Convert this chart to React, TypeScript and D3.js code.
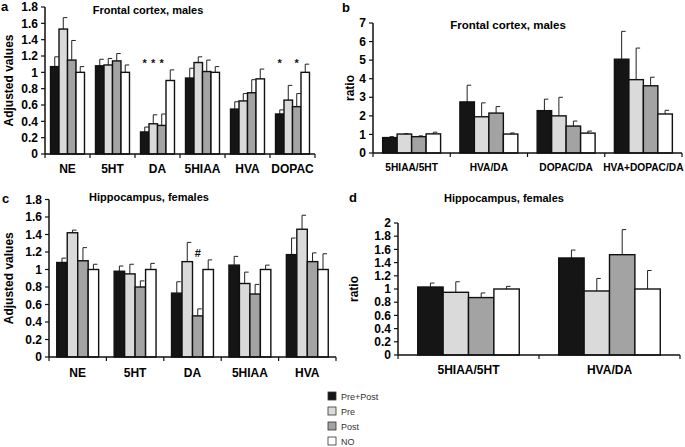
import React from "react";
import * as d3 from "d3";

const seriesNames = ["Pre+Post", "Pre", "Post", "NO"];
const seriesColors = ["#151515", "#dadada", "#a3a3a3", "#ffffff"];

// Panel a: Frontal cortex, males (adjusted values)
const catsA = ["NE", "5HT", "DA", "5HIAA", "HVA", "DOPAC"];
const valsA = [
  [1.07, 1.53, 1.15, 1.0],
  [1.08, 1.09, 1.14, 1.0],
  [0.27, 0.37, 0.35, 0.9],
  [0.93, 1.12, 1.01, 1.0],
  [0.55, 0.65, 0.75, 0.92],
  [0.49, 0.66, 0.58, 1.0],
];
const errA = [
  [1.19, 1.67, 1.39, 1.07],
  [1.16, 1.17, 1.23, 1.09],
  [0.33, 0.48, 0.49, 1.03],
  [1.05, 1.19, 1.15, 1.07],
  [0.64, 0.74, 0.91, 1.04],
  [0.54, 0.84, 0.74, 1.1],
];
// markers: [categoryIndex, seriesIndex, value, symbol]
const marksA: [number, number, number, string][] = [
  [2, 0, 1.13, "*"], [2, 1, 1.13, "*"], [2, 2, 1.13, "*"],
  [5, 0, 1.13, "*"], [5, 2, 1.13, "*"],
];

// Panel b: Frontal cortex, males (ratio)
const catsB = ["5HIAA/5HT", "HVA/DA", "DOPAC/DA", "HVA+DOPAC/DA"];
const valsB = [
  [0.83, 1.02, 0.88, 1.03],
  [2.75, 1.95, 2.15, 1.02],
  [2.28, 2.0, 1.45, 1.07],
  [5.05, 3.95, 3.62, 2.1],
];
const errB = [
  [0.88, 1.04, 0.92, 1.12],
  [3.65, 2.7, 2.5, 1.08],
  [2.9, 3.0, 1.72, 1.18],
  [6.55, 5.65, 4.08, 2.3],
];

// Panel c: Hippocampus, females (adjusted values)
const catsC = ["NE", "5HT", "DA", "5HIAA", "HVA"];
const valsC = [
  [1.08, 1.42, 1.1, 1.0],
  [0.98, 0.95, 0.8, 1.0],
  [0.73, 1.09, 0.47, 1.0],
  [1.05, 0.84, 0.72, 1.0],
  [1.17, 1.46, 1.09, 1.0],
];
const errC = [
  [1.13, 1.45, 1.25, 1.06],
  [1.04, 1.06, 0.87, 1.07],
  [0.86, 1.31, 0.55, 1.11],
  [1.15, 0.97, 0.83, 1.05],
  [1.36, 1.62, 1.19, 1.18],
];
const marksC: [number, number, number, string][] = [[2, 2, 1.2, "#"]];

// Panel d: Hippocampus, females (ratio)
const catsD = ["5HIAA/5HT", "HVA/DA"];
const valsD = [
  [1.03, 0.95, 0.87, 1.0],
  [1.47, 0.97, 1.52, 1.0],
];
const errD = [
  [1.09, 1.11, 0.94, 1.04],
  [1.59, 1.16, 1.9, 1.28],
];

const FONT = "'Liberation Sans', Arial, sans-serif";

type PanelProps = {
  cats: string[];
  vals: number[][];
  errs: number[][];
  marks?: [number, number, number, string][];
  x0: number; x1: number; yBase: number; yTop: number;
  yMax: number; step: number; pad: number;
  title: string; titleX: number; titleY: number; titleSize: number;
  yLabel: string; yLabelX: number;
  letter: string; letterX: number; letterY: number;
  catY: number; catSize: number;
};

function Panel(p: PanelProps) {
  const x = d3.scaleBand<string>().domain(p.cats).range([p.x0, p.x1]).paddingInner(p.pad).paddingOuter(p.pad / 2);
  const inner = d3.scaleBand<number>().domain([0, 1, 2, 3]).range([0, x.bandwidth()]);
  const y = d3.scaleLinear().domain([0, p.yMax]).range([p.yBase, p.yTop]);
  const ticks = d3.range(0, p.yMax + p.step / 2, p.step);
  const bounds = d3.range(0, p.cats.length + 1).map((i) => p.x0 + i * x.step());
  const bw = inner.bandwidth();
  return (
    <g fontFamily={FONT}>
      <text x={p.letterX} y={p.letterY} fontSize={13} fontWeight="bold">{p.letter}</text>
      <text x={p.titleX} y={p.titleY} fontSize={p.titleSize} fontWeight="bold" textAnchor="middle">{p.title}</text>
      <text transform={`translate(${p.yLabelX},${(p.yBase + p.yTop) / 2}) rotate(-90)`} fontSize={12} fontWeight="bold" textAnchor="middle">{p.yLabel}</text>
      {p.vals.map((row, ci) =>
        row.map((v, si) => {
          const bx = (x(p.cats[ci]) as number) + (inner(si) as number);
          const cx = bx + bw / 2;
          const e = p.errs[ci][si];
          return (
            <g key={`${ci}-${si}`}>
              <line x1={cx} x2={cx} y1={y(v)} y2={y(e)} stroke="#222" strokeWidth={1} />
              <line x1={cx} x2={cx + 4} y1={y(e)} y2={y(e)} stroke="#222" strokeWidth={1} />
              <rect x={bx} y={y(v)} width={bw} height={p.yBase - y(v)} fill={seriesColors[si]} stroke="#111" strokeWidth={1.4} />
            </g>
          );
        })
      )}
      {(p.marks || []).map(([ci, si, v, s], i) => (
        <text key={i} x={(x(p.cats[ci]) as number) + (inner(si) as number) + bw / 2} y={y(v) + 5} fontSize={11} fontWeight="bold" fill="#111" textAnchor="middle">{s}</text>
      ))}
      <line x1={p.x0} x2={p.x0} y1={p.yBase} y2={p.yTop} stroke="#111" strokeWidth={1.5} />
      <line x1={p.x0} x2={p.x1} y1={p.yBase} y2={p.yBase} stroke="#111" strokeWidth={1.5} />
      {ticks.map((t) => (
        <g key={t}>
          <line x1={p.x0 - 4} x2={p.x0} y1={y(t)} y2={y(t)} stroke="#111" strokeWidth={1.2} />
          <text x={p.x0 - 7} y={y(t)} dy="0.35em" fontSize={12} fontWeight="bold" textAnchor="end">{String(+t.toFixed(1))}</text>
        </g>
      ))}
      {bounds.map((b, i) => (
        <line key={i} x1={b} x2={b} y1={p.yBase} y2={p.yBase + 4} stroke="#111" strokeWidth={1.2} />
      ))}
      {p.cats.map((c) => (
        <text key={c} x={(x(c) as number) + x.bandwidth() / 2} y={p.catY} fontSize={p.catSize} fontWeight="bold" textAnchor="middle">{c}</text>
      ))}
    </g>
  );
}

export default function App() {
  return (
    <svg width={685} height={447} style={{ position: "absolute", left: 0, top: 0, background: "#fff" }}>
      <rect width={685} height={447} fill="#fff" />
      <Panel cats={catsA} vals={valsA} errs={errA} marks={marksA}
        x0={45} x1={315} yBase={154} yTop={7} yMax={1.8} step={0.2} pad={0.245}
        title="Frontal cortex, males" titleX={148} titleY={14} titleSize={11}
        yLabel="Adjusted values" yLabelX={13} letter="a" letterX={1} letterY={11}
        catY={173} catSize={12} />
      <Panel cats={catsB} vals={valsB} errs={errB}
        x0={373} x1={682} yBase={153} yTop={23} yMax={7} step={1} pad={0.25}
        title="Frontal cortex, males" titleX={508} titleY={29} titleSize={11.5}
        yLabel="ratio" yLabelX={354} letter="b" letterX={342} letterY={12}
        catY={171} catSize={10.2} />
      <Panel cats={catsC} vals={valsC} errs={errC} marks={marksC}
        x0={49} x1={336} yBase={357} yTop={199.5} yMax={1.8} step={0.2} pad={0.27}
        title="Hippocampus, females" titleX={149} titleY={201} titleSize={11}
        yLabel="Adjusted values" yLabelX={13} letter="c" letterX={2} letterY={203}
        catY={377} catSize={12} />
      <Panel cats={catsD} vals={valsD} errs={errD}
        x0={398} x1={680} yBase={355} yTop={223} yMax={2} step={0.2} pad={0.28}
        title="Hippocampus, females" titleX={504} titleY={202} titleSize={11}
        yLabel="ratio" yLabelX={358} letter="d" letterX={349} letterY={202}
        catY={374} catSize={12} />
      <g fontFamily={FONT}>
        {seriesNames.map((n, i) => (
          <g key={n} transform={`translate(328,${392 + i * 15})`}>
            <rect x={0} y={0} width={8} height={8} fill={seriesColors[i]} stroke="#333" strokeWidth={0.8} />
            <text x={13} y={7.5} fontSize={9} fill="#333">{n}</text>
          </g>
        ))}
      </g>
    </svg>
  );
}
